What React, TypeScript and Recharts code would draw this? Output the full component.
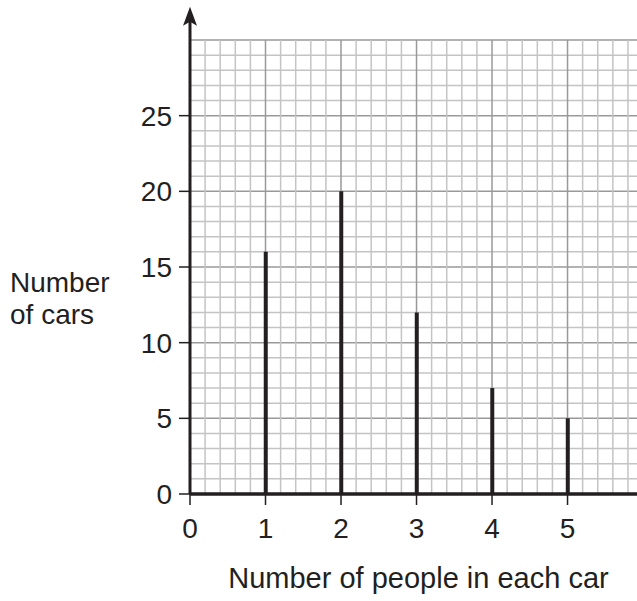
import React from "react";
import {
  ComposedChart,
  Bar,
  XAxis,
  YAxis,
  CartesianGrid,
  ReferenceLine,
  ReferenceDot,
  Label,
} from "recharts";

// Data
const peoplePerCar = [1, 2, 3, 4, 5];
const numberOfCars = [16, 20, 12, 7, 5];
const xTicks = [0, 1, 2, 3, 4, 5];
const yTicks = [0, 5, 10, 15, 20, 25];
const xGridValues = [
  0.2, 0.4, 0.6, 0.8, 1, 1.2, 1.4, 1.6, 1.8, 2, 2.2, 2.4, 2.6, 2.8, 3, 3.2, 3.4,
  3.6, 3.8, 4, 4.2, 4.4, 4.6, 4.8, 5, 5.2, 5.4, 5.6, 5.8,
];
const yGridValues = [
  1, 2, 3, 4, 5, 6, 7, 8, 9, 10, 11, 12, 13, 14, 15, 16, 17, 18, 19, 20, 21, 22,
  23, 24, 25, 26, 27, 28, 29, 30,
];
const xTitle = "Number of people in each car";
const yTitleLines = ["Number", "of cars"];

const data = peoplePerCar.map((p, i) => ({ people: p, cars: numberOfCars[i] }));

const FONT = "'Liberation Sans', Arial, Helvetica, sans-serif";
const INK = "#231f20";
const MINOR = "#c4c4c4";
const MAJOR = "#999999";

const gridLine = (values: number[], every: number) => (props: any) => {
  const { x1, y1, x2, y2, index } = props;
  const v = values[index];
  const isMajor = v != null && Math.abs(v / every - Math.round(v / every)) < 1e-6;
  return (
    <line
      key={`g-${index}-${x1}-${y1}`}
      x1={x1}
      y1={y1}
      x2={x2}
      y2={y2}
      stroke={isMajor ? MAJOR : MINOR}
      strokeWidth={1.5}
      fill="none"
    />
  );
};

const ArrowHead = (props: any) => {
  const { cx, cy } = props;
  if (cx == null || cy == null) return null;
  return (
    <path
      d={`M ${cx} ${cy} L ${cx - 7} ${cy + 19} L ${cx} ${cy + 15} L ${cx + 7} ${cy + 19} Z`}
      fill={INK}
    />
  );
};

const YTitle = () => (
  <text fontFamily={FONT} fontSize={28} fill={INK} x={10} y={292}>
    <tspan x={10} y={292}>{yTitleLines[0]}</tspan>
    <tspan x={10} y={324}>{yTitleLines[1]}</tspan>
  </text>
);

export default function App() {
  return (
    <div style={{ position: "absolute", left: 0, top: 0 }}>
      <ComposedChart
        width={637}
        height={601}
        data={data}
        margin={{ top: 40, right: 0, bottom: 47, left: 130 }}
        style={{ fontFamily: FONT }}
      >
        <CartesianGrid
          verticalValues={xGridValues}
          horizontalValues={yGridValues}
          vertical={gridLine(xGridValues, 1)}
          horizontal={gridLine(yGridValues, 5)}
        />
        <XAxis
          dataKey="people"
          type="number"
          domain={[0, 5.92]}
          ticks={xTicks}
          interval={0}
          allowDataOverflow
          height={60}
          tickSize={11}
          tickMargin={13}
          stroke={INK}
          axisLine={{ stroke: INK, strokeWidth: 3 }}
          tickLine={{ stroke: INK, strokeWidth: 1.5 }}
          tick={{ fill: INK, fontSize: 28, fontFamily: FONT }}
        >
          <Label
            value={xTitle}
            position="insideBottom"
            offset={-34}
            style={{ fontSize: 29, fontFamily: FONT, fill: INK }}
            dx={5}
          />
        </XAxis>
        <YAxis
          dataKey="cars"
          type="number"
          domain={[0, 30]}
          ticks={yTicks}
          interval={0}
          allowDataOverflow
          width={60}
          tickSize={11}
          tickMargin={7}
          stroke={INK}
          axisLine={false}
          tickLine={{ stroke: INK, strokeWidth: 1.5 }}
          tick={{ fill: INK, fontSize: 28, fontFamily: FONT }}
        >
          <Label content={<YTitle />} />
        </YAxis>
        <Bar dataKey="cars" fill={INK} barSize={4} isAnimationActive={false} />
        <ReferenceLine
          segment={[
            { x: 0, y: 0 },
            { x: 0, y: 31.3 },
          ]}
          stroke={INK}
          strokeWidth={3}
          ifOverflow="visible"
        />
        <ReferenceLine y={0} stroke={INK} strokeWidth={3} />
        <ReferenceDot
          x={0}
          y={32.2}
          r={0}
          ifOverflow="visible"
          shape={<ArrowHead />}
        />
      </ComposedChart>
    </div>
  );
}
